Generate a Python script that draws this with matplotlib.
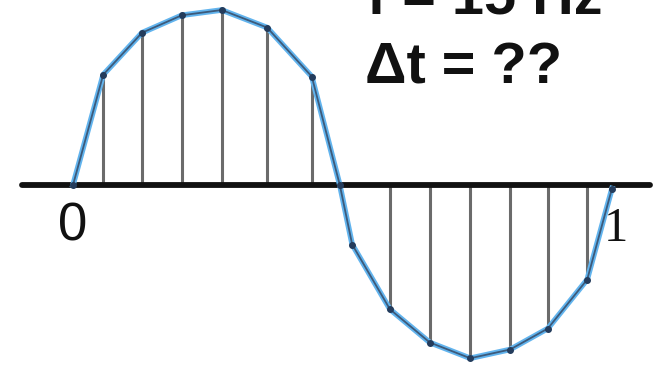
import matplotlib
matplotlib.use("Agg")
import matplotlib.pyplot as plt
from matplotlib.font_manager import FontProperties

# Sample instants (fraction of the period) and sampled signal values
sample_t = [0.0, 0.056, 0.128, 0.202, 0.276, 0.360, 0.443, 0.495,
            0.518, 0.588, 0.662, 0.737, 0.811, 0.881, 0.954, 1.0]
sample_v = [0.0, 0.63, 0.87, 0.97, 1.0, 0.90, 0.62, 0.0,
            -0.34, -0.71, -0.90, -0.99, -0.94, -0.82, -0.54, -0.02]
# Which samples get a vertical stem down/up to the axis
stem_idx = [1, 2, 3, 4, 5, 6, 9, 10, 11, 12, 13, 14]

axis_span = [-0.095, 1.071]
tick_labels = ["0", "1"]
title_lines = ["f = 15 Hz", "\u0394t = ??"]

W, H, DPI = 659, 371, 100
fig = plt.figure(figsize=(W / DPI, H / DPI), dpi=DPI)
ax = fig.add_axes([0, 0, 1, 1])
ax.set_xlim(-73 / 539, (W - 73) / 539)
ax.set_ylim(-(H - 185) / 175, 185 / 175)
ax.axis("off")

# stems
for i in stem_idx:
    ax.plot([sample_t[i], sample_t[i]], [0, sample_v[i]],
            color="#6b6b6b", lw=2.2, solid_capstyle="butt", zorder=2)

# horizontal time axis
ax.plot(axis_span, [0, 0], color="#111111", lw=4.2,
        solid_capstyle="round", zorder=3)

# signal curve: light blue glow with darker core and sample dots
ax.plot(sample_t, sample_v, color="#62b4ee", lw=4.0, zorder=4,
        solid_joinstyle="round")
ax.plot(sample_t, sample_v, color="#3d5a7a", lw=1.3, zorder=5,
        marker="o", markersize=4, markerfacecolor="#243c5c",
        markeredgecolor="#243c5c", solid_joinstyle="round")

# axis end labels
sans = FontProperties(family="Liberation Sans", size=38)
serif = FontProperties(family="Liberation Serif", size=35)
ax.text(0.0, -0.235, tick_labels[0], fontproperties=sans,
        ha="center", va="center", color="#111111")
ax.text(1.008, -0.25, tick_labels[1], fontproperties=serif,
        ha="center", va="center", color="#111111")

# annotation text in the upper right
fig.text(367 / W, 1 - 13 / H, title_lines[0], fontsize=41.5, fontweight="bold",
         family="Liberation Sans", ha="left", va="baseline", color="#111111")
fig.text(365 / W, 1 - 83 / H, title_lines[1], fontsize=41.5, fontweight="bold",
         family="Liberation Sans", ha="left", va="baseline", color="#111111")

fig.savefig("out.png", dpi=DPI, facecolor="white")
